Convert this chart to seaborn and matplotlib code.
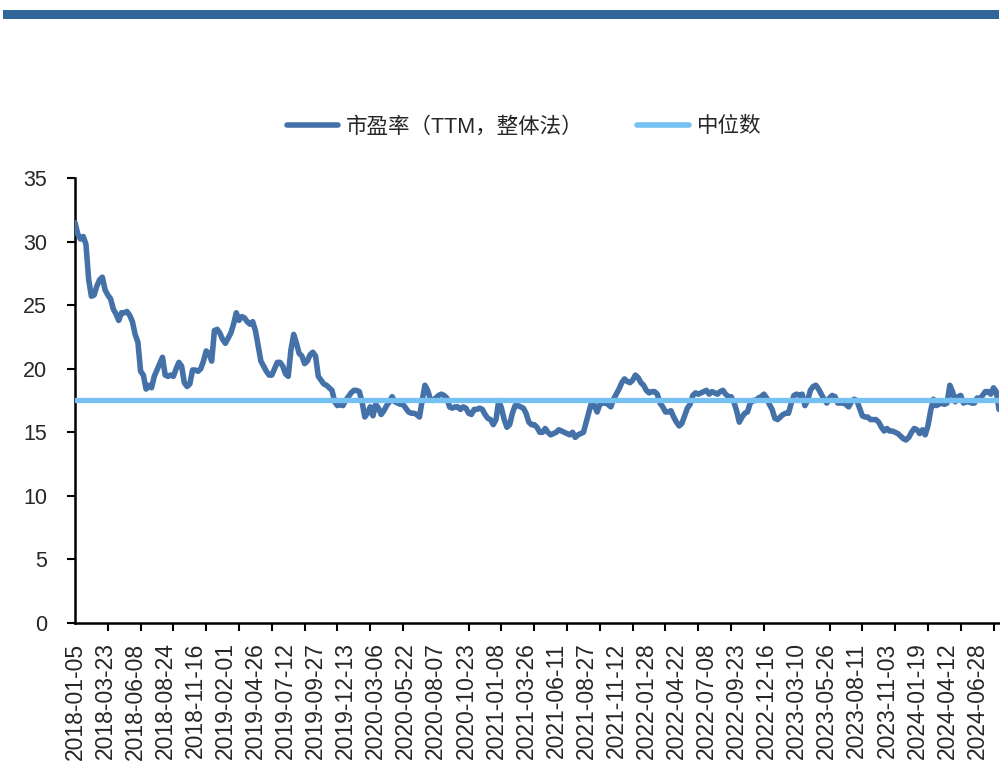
import numpy as np
import pandas as pd
import matplotlib
matplotlib.use("Agg")
import matplotlib.pyplot as plt
import seaborn as sns
from matplotlib.patches import Rectangle
from matplotlib.ticker import FixedLocator

# Weekly PE (TTM, whole-market method)
pe = [
    31.5, 30.6, 30.2, 30.4, 29.8, 27.0, 25.7, 25.8, 26.5, 27.0,
    27.2, 26.2, 25.8, 25.5, 24.7, 24.3, 23.8, 24.4, 24.4, 24.5,
    24.2, 23.7, 22.7, 22.1, 19.8, 19.5, 18.4, 18.7, 18.5, 19.4,
    19.9, 20.4, 20.9, 19.5, 19.4, 19.5, 19.4, 20.0, 20.5, 20.2,
    18.9, 18.6, 18.8, 19.9, 19.9, 19.8, 20.0, 20.6, 21.4, 21.2,
    20.6, 23.0, 23.1, 22.8, 22.3, 22.0, 22.4, 22.8, 23.5, 24.4,
    23.8, 24.1, 24.0, 23.7, 23.5, 23.7, 23.0, 21.8, 20.6, 20.2,
    19.8, 19.5, 19.5, 20.0, 20.5, 20.5, 20.2, 19.6, 19.4, 21.5,
    22.7, 22.0, 21.2, 21.0, 20.4, 20.6, 21.1, 21.3, 21.0, 19.4,
    19.1, 18.8, 18.7, 18.5, 18.3, 17.4, 17.1, 17.2, 17.1, 17.5,
    17.8, 18.1, 18.3, 18.3, 18.2, 17.4, 16.2, 16.5, 17.0, 16.3,
    17.2, 16.9, 16.4, 16.7, 17.1, 17.4, 17.8, 17.4, 17.3, 17.2,
    17.2, 16.9, 16.6, 16.5, 16.5, 16.4, 16.2, 17.5, 18.7, 18.3,
    17.6, 17.5, 17.7, 17.9, 18.0, 17.9, 17.7, 17.0, 16.9, 17.0,
    17.0, 16.8, 17.0, 16.9, 16.5, 16.4, 16.8, 16.8, 16.9, 16.8,
    16.4, 16.1, 16.0, 15.6, 16.0, 17.5, 16.9, 16.0, 15.4, 15.6,
    16.5, 17.1, 17.1, 17.0, 16.9, 16.5, 15.8, 15.6, 15.6, 15.4,
    15.0, 15.0, 15.3, 15.0, 14.8, 14.9, 15.0, 15.2, 15.1, 15.0,
    14.9, 14.8, 15.0, 14.6, 14.8, 14.9, 15.0, 15.8, 16.6, 17.4,
    17.1, 16.6, 17.2, 17.3, 17.3, 17.2, 17.0, 17.6, 18.0, 18.4,
    18.9, 19.2, 19.0, 18.9, 19.1, 19.5, 19.3, 18.9, 18.7, 18.3,
    18.1, 18.2, 18.2, 18.0, 17.3, 17.0, 16.6, 16.6, 16.7, 16.2,
    15.8, 15.5, 15.7, 16.3, 16.9, 17.2, 17.9, 18.1, 18.0, 18.1,
    18.2, 18.3, 18.0, 18.2, 18.1, 18.0, 18.2, 18.3, 18.0, 17.8,
    17.8, 17.4, 16.7, 15.8, 16.2, 16.5, 16.6, 17.3, 17.5, 17.5,
    17.7, 17.8, 18.0, 17.7, 17.2, 16.8, 16.1, 16.0, 16.2, 16.4,
    16.5, 16.5, 17.3, 17.9, 18.0, 17.9, 18.0, 17.1, 17.5, 18.3,
    18.6, 18.7, 18.4, 18.0, 17.6, 17.3, 17.7, 17.9, 17.8, 17.3,
    17.3, 17.3, 17.2, 17.0, 17.4, 17.6, 17.5, 16.9, 16.3, 16.2,
    16.2, 16.0, 16.0, 16.0, 15.8, 15.4, 15.1, 15.3, 15.1, 15.1,
    15.0, 14.9, 14.7, 14.5, 14.4, 14.6, 15.0, 15.3, 15.2, 14.9,
    15.2, 14.8, 15.5, 16.7, 17.6, 17.1, 17.2, 17.3, 17.2, 17.3,
    18.7, 18.2, 17.4, 17.8, 17.9, 17.3, 17.4, 17.4, 17.3, 17.3,
    17.7, 17.6, 17.9, 18.2, 18.2, 18.0, 18.5, 18.2, 16.8,
]
median_pe = 17.55

date_labels = [
    "2018-01-05", "2018-03-23", "2018-06-08", "2018-08-24", "2018-11-16",
    "2019-02-01", "2019-04-26", "2019-07-12", "2019-09-27", "2019-12-13",
    "2020-03-06", "2020-05-22", "2020-08-07", "2020-10-23", "2021-01-08",
    "2021-03-26", "2021-06-11", "2021-08-27", "2021-11-12", "2022-01-28",
    "2022-04-22", "2022-07-08", "2022-09-23", "2022-12-16", "2023-03-10",
    "2023-05-26", "2023-08-11", "2023-11-03", "2024-01-19", "2024-04-12",
    "2024-06-28",
]
label_step = 11
tick_step = 12

series_name = "市盈率（TTM，整体法）"
median_name = "中位数"

df = pd.DataFrame({"idx": np.arange(len(pe)), "pe": pe})
df["median"] = median_pe

sns.set_theme(style="white")
plt.rcParams["font.family"] = ["Liberation Sans", "Noto Sans CJK SC", "DejaVu Sans"]

fig = plt.figure(figsize=(10, 7.61), dpi=100)
ax = fig.add_axes([0.075, 0.1813, 0.924, 0.5848])

line_color = "#4472A8"
median_color = "#74C1F2"

sns.lineplot(data=df, x="idx", y="pe", ax=ax, color=line_color, lw=4.0,
             label=series_name, zorder=3, solid_joinstyle="round")
sns.lineplot(data=df, x="idx", y="median", ax=ax, color=median_color, lw=3.8,
             label=median_name, zorder=4)

ax.set_xlim(0, len(pe) - 1)
ax.set_ylim(0, 35)
ax.set_yticks(np.arange(0, 36, 5))
ax.set_xlabel("")
ax.set_ylabel("")

# labelled categories every 11 weeks, tick marks every 12 weeks
ax.xaxis.set_major_locator(FixedLocator(np.arange(len(date_labels)) * label_step))
ax.set_xticklabels(date_labels, rotation=90, fontsize=16.5)
ax.xaxis.set_minor_locator(FixedLocator(np.arange(0, len(pe), tick_step)))
ax.tick_params(axis="x", which="major", length=0, pad=14)
ax.tick_params(axis="x", which="minor", length=6, width=1.5, color="black",
               direction="out", bottom=True)
ax.tick_params(axis="y", which="major", length=6, width=1.5, color="black",
               direction="out", left=True, labelsize=15.5, pad=14)

for side in ["top", "right"]:
    ax.spines[side].set_visible(False)
for side in ["left", "bottom"]:
    ax.spines[side].set_color("black")
    ax.spines[side].set_linewidth(1.8)

leg = ax.legend(loc="center", ncol=2, frameon=False,
                fontsize=15.5, handlelength=2.4, handletextpad=0.35,
                columnspacing=2.5)
leg.set_bbox_to_anchor((0.524, 1 - 127 / 761), transform=fig.transFigure)
for h in leg.get_lines():
    h.set_linewidth(4.0)

# header band
fig.patches.append(Rectangle((0.003, 1 - 18.5 / 761), 0.996, 8.5 / 761,
                             transform=fig.transFigure, facecolor="#31669A",
                             edgecolor="none"))

fig.savefig("out.png", dpi=100)
